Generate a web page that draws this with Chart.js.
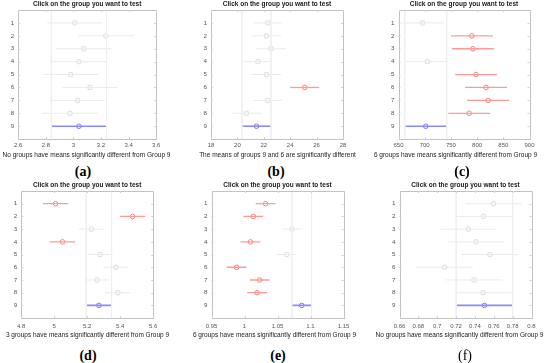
<!DOCTYPE html>
<html><head><meta charset="utf-8">
<script src="https://cdn.jsdelivr.net/npm/chart.js@4"></script>
<style>
html,body{margin:0;padding:0;background:#fff;}
body{width:550px;height:363px;position:relative;overflow:hidden;}
canvas{position:absolute;}
.lbl{position:absolute;font-family:"Liberation Serif","Times New Roman",serif;font-weight:bold;font-size:14px;color:#000;transform:translate(-50%,-50%);line-height:1;white-space:nowrap;}
</style></head><body>
<canvas id="ca"></canvas><canvas id="cb"></canvas><canvas id="cc"></canvas>
<canvas id="cd"></canvas><canvas id="ce"></canvas><canvas id="cf"></canvas>
<div class="lbl" style="left:83px;top:172px;">(a)</div>
<div class="lbl" style="left:276px;top:172px;">(b)</div>
<div class="lbl" style="left:462px;top:172px;">(c)</div>
<div class="lbl" style="left:88px;top:356px;">(d)</div>
<div class="lbl" style="left:278px;top:356px;">(e)</div>
<div class="lbl" style="left:465px;top:356px;font-weight:normal;">(f)</div>
<script>
// ---------- DATA ----------
const groups = ['1','2','3','4','5','6','7','8','9'];
const titleText = 'Click on the group you want to test';

// status: n = not significant (grey), s = significantly different (red), c = compared group (blue)
const meansA = [3.01, 3.235, 3.075, 3.04, 2.98, 3.12, 3.03, 2.975, 3.04];
const halfA  = [0.2, 0.2, 0.2, 0.2, 0.2, 0.2, 0.2, 0.2, 0.2];
const statusA = ['n','n','n','n','n','n','n','n','c'];
const ticksA = [2.6, 2.8, 3, 3.2, 3.4, 3.6];
const captionA = 'No groups have means significantly different from Group 9';

const meansB = [22.3, 22.2, 22.55, 21.55, 22.2, 25.1, 22.3, 20.7, 21.45];
const halfB  = [1.1, 1.1, 1.1, 1.1, 1.1, 1.1, 1.1, 1.1, 1.1];
const statusB = ['n','n','n','n','n','s','n','n','c'];
const ticksB = [18, 20, 22, 24, 26, 28];
const captionB = 'The means of groups 9 and 6 are significantly different';

const meansC = [696, 790, 792, 705, 798, 817, 821, 785, 702];
const halfC  = [40, 40, 40, 40, 40, 40, 40, 40, 40];
const statusC = ['n','s','s','n','s','s','s','s','c'];
const ticksC = [650, 700, 750, 800, 850, 900];
const captionC = '6 groups have means significantly different from Group 9';

const meansD = [5.008, 5.475, 5.226, 5.05, 5.279, 5.374, 5.259, 5.386, 5.271];
const halfD  = [0.077, 0.077, 0.077, 0.077, 0.077, 0.077, 0.077, 0.077, 0.077];
const statusD = ['s','s','n','s','n','n','n','n','c'];
const ticksD = [4.8, 5, 5.2, 5.4, 5.6];
const captionD = '3 groups have means significantly different from Group 9';

const meansE = [1.032, 1.0133, 1.072, 1.009, 1.064, 0.988, 1.023, 1.019, 1.0867];
const halfE  = [0.015, 0.015, 0.015, 0.015, 0.015, 0.015, 0.015, 0.015, 0.015];
const statusE = ['s','s','n','s','n','s','s','s','c'];
const ticksE = [0.95, 1, 1.05, 1.1, 1.15];
const captionE = '6 groups have means significantly different from Group 9';

const meansF = [0.7597, 0.749, 0.733, 0.7413, 0.7558, 0.7077, 0.739, 0.7487, 0.750];
const halfF  = [0.03, 0.03, 0.03, 0.03, 0.03, 0.03, 0.03, 0.03, 0.03];
const statusF = ['n','n','n','n','n','n','n','n','c'];
const ticksF = [0.66, 0.68, 0.7, 0.72, 0.74, 0.76, 0.78, 0.8];
const captionF = 'No groups have means significantly different from Group 9';

// ---------- STYLE / LAYOUT ----------
const lineCol = {n:'#ebebeb', s:'#ff9a9a', c:'#8a8aff'};
const ptCol   = {n:'#dadada', s:'#ff8080', c:'#7777ff'};
const lineW   = {n:1, s:1.3, c:1.6};
const FONT = '"Liberation Sans", Arial, sans-serif';
const CW = 185; // canvas width

const row1 = {top:0,   h:160, xH:12, tickPad:3, titlePad:{top:0.8,bottom:1.4}, capPad:{top:0,bottom:1.08}};
const row2 = {top:181, h:159, xH:13, tickPad:5, titlePad:{top:0.1,bottom:2.1}, capPad:{top:0.3,bottom:0.78}};

// L/R = plot box edges, cx = caption centre (page pixels)
const panels = [
  {id:'ca', cx:86.3,  L:18,  R:156, row:row1, m:meansA, hw:halfA, st:statusA, t:ticksA, cap:captionA},
  {id:'cb', cx:277.5, L:211, R:343, row:row1, m:meansB, hw:halfB, st:statusB, t:ticksB, cap:captionB},
  {id:'cc', cx:455,   L:398, R:529, row:row1, m:meansC, hw:halfC, st:statusC, t:ticksC, cap:captionC},
  {id:'cd', cx:87.3,  L:21,  R:153, row:row2, m:meansD, hw:halfD, st:statusD, t:ticksD, cap:captionD},
  {id:'ce', cx:274,   L:211, R:343, row:row2, m:meansE, hw:halfE, st:statusE, t:ticksE, cap:captionE},
  {id:'cf', cx:459,   L:399, R:531, row:row2, m:meansF, hw:halfF, st:statusF, t:ticksF, cap:captionF},
];

const boxPlugin = {
  id:'box',
  afterDatasetsDraw(chart){
    const {ctx, chartArea:a, scales} = chart;
    ctx.save();
    ctx.strokeStyle = '#c2c2c2';
    ctx.lineWidth = 1;
    ctx.strokeRect(Math.round(a.left)+0.5, Math.round(a.top)+0.5, Math.round(a.right-a.left), Math.round(a.bottom-a.top));
    ctx.strokeStyle = '#d0d0d0';
    ctx.beginPath();
    scales.x.ticks.forEach(t=>{
      const px = Math.round(scales.x.getPixelForValue(t.value))+0.5;
      ctx.moveTo(px, a.bottom); ctx.lineTo(px, a.bottom-2);
      ctx.moveTo(px, a.top); ctx.lineTo(px, a.top+2);
    });
    scales.y.ticks.forEach(t=>{
      if (t.value<1 || t.value>9) return;
      const py = Math.round(scales.y.getPixelForValue(t.value))+0.5;
      ctx.moveTo(a.left, py); ctx.lineTo(a.left+2, py);
      ctx.moveTo(a.right, py); ctx.lineTo(a.right-2, py);
    });
    ctx.stroke();
    ctx.restore();
  }
};

panels.forEach(p=>{
  const left = p.cx - CW/2;
  const cv = document.getElementById(p.id);
  cv.width = CW; cv.height = p.row.h;
  cv.style.left = left+'px'; cv.style.top = p.row.top+'px';
  cv.style.width = CW+'px'; cv.style.height = p.row.h+'px';

  const ci = p.m.length-1; // compared group (Group 9)
  const lo9 = p.m[ci]-p.hw[ci], hi9 = p.m[ci]+p.hw[ci];
  const datasets = [];
  [lo9, hi9].forEach(v=>{
    datasets.push({type:'line', data:[{x:v,y:0},{x:v,y:10}], borderColor:'#f0f0f0', borderWidth:1,
      pointRadius:0, showLine:true, fill:false});
  });
  p.m.forEach((mv,i)=>{
    const s = p.st[i];
    datasets.push({type:'line', data:[{x:mv-p.hw[i], y:i+1},{x:mv+p.hw[i], y:i+1}],
      borderColor:lineCol[s], borderWidth:lineW[s], pointRadius:0, showLine:true, fill:false});
  });
  datasets.push({type:'scatter', data:p.m.map((mv,i)=>({x:mv, y:i+1})),
    pointStyle:'circle', pointRadius:2.3, pointBorderWidth:1,
    pointBackgroundColor:'rgba(0,0,0,0)',
    pointBorderColor:p.st.map(s=>ptCol[s])});

  new Chart(cv, {
    type:'scatter',
    data:{datasets},
    plugins:[boxPlugin],
    options:{
      responsive:false, animation:false, devicePixelRatio:1,
      layout:{padding:0},
      plugins:{
        legend:{display:false}, tooltip:{enabled:false},
        title:{display:true, text:titleText, fullSize:false, color:'#1a1a1a',
          font:{family:FONT, size:6.5, weight:'bold', lineHeight:1.2}, padding:p.row.titlePad},
        subtitle:{display:true, position:'bottom', fullSize:true, text:p.cap, color:'#1a1a1a',
          font:{family:FONT, size:6.5, weight:'normal', lineHeight:1.2}, padding:p.row.capPad}
      },
      scales:{
        x:{type:'linear', position:'bottom', min:p.t[0], max:p.t[p.t.length-1],
          afterBuildTicks(s){ s.ticks = p.t.map(v=>({value:v})); },
          afterFit(s){ s.height = p.row.xH; },
          grid:{display:false, drawTicks:false}, border:{display:false},
          ticks:{padding:p.row.tickPad, color:'#555', font:{family:FONT, size:6}, maxRotation:0, autoSkip:false,
            callback:v=>String(+(+v).toFixed(6))}
        },
        y:{type:'linear', position:'left', reverse:true, min:0, max:10,
          afterBuildTicks(s){ s.ticks = groups.map((g,i)=>({value:i+1})); },
          afterFit(s){ s.width = p.L - left; },
          grid:{display:false, drawTicks:false}, border:{display:false},
          ticks:{padding:4, color:'#555', font:{family:FONT, size:6.2}, autoSkip:false,
            callback:(v)=>groups[v-1] ?? ''}
        },
        yr:{type:'linear', position:'right', min:0, max:10,
          afterFit(s){ s.width = (left + CW) - p.R; },
          grid:{display:false, drawTicks:false}, border:{display:false},
          ticks:{display:false}
        }
      }
    }
  });
});
</script>
</body></html>
